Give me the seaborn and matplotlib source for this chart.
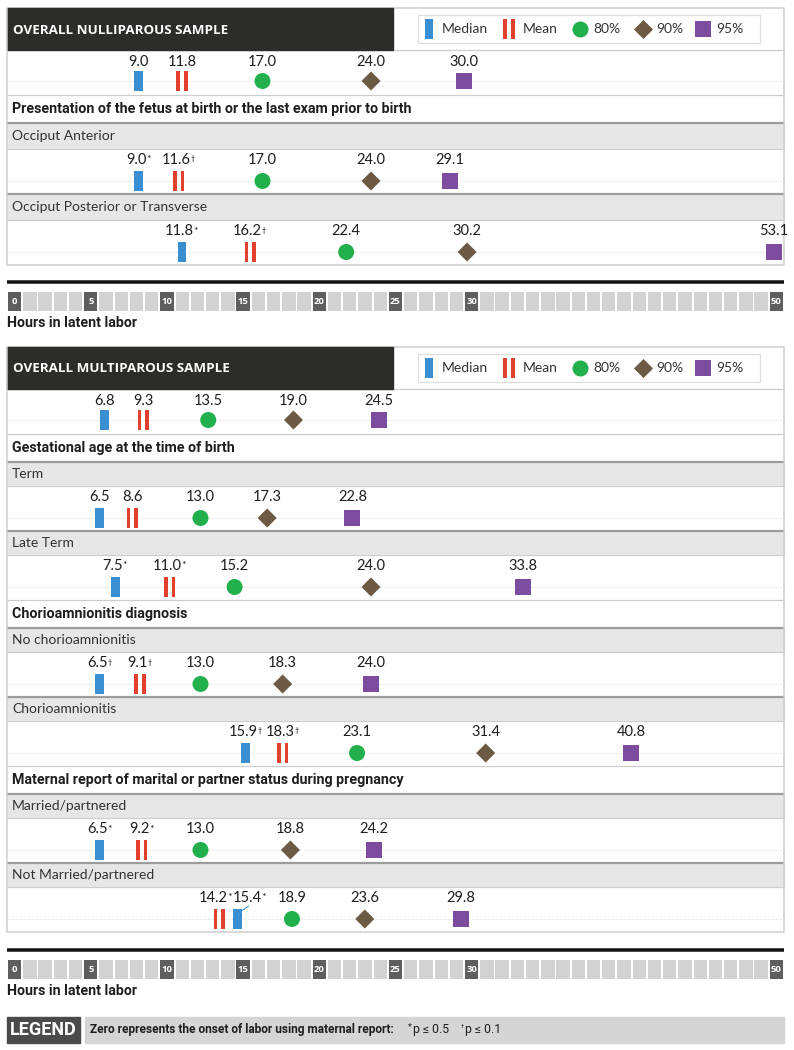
"""plot.py

Latent labor duration summary (median, mean and 80/90/95th percentiles)
for nulliparous and multiparous samples.

"""

import numpy as np
import pandas as pd
import matplotlib
matplotlib.use("Agg")
import matplotlib.pyplot as plt
from matplotlib.path import Path
from matplotlib.patches import Rectangle
import seaborn as sns

# ---- data (hours in latent labor) ----
NULLI_TITLE = "OVERALL NULLIPAROUS SAMPLE"
NULLI_HEADINGS = ["Presentation of the fetus at birth or the last exam prior to birth"]
NULLI_GROUPS = [["Occiput Anterior", "Occiput Posterior or Transverse"]]
NULLI_MEDIAN = [9.0, 9.0, 11.8]
NULLI_MEAN = [11.8, 11.6, 16.2]
NULLI_P80 = [17.0, 17.0, 22.4]
NULLI_P90 = [24.0, 24.0, 30.2]
NULLI_P95 = [30.0, 29.1, 53.1]
NULLI_MEDIAN_SIG = ["", "*", "*"]
NULLI_MEAN_SIG = ["", "\u2020", "\u2020"]

MULTI_TITLE = "OVERALL MULTIPAROUS SAMPLE"
MULTI_HEADINGS = ["Gestational age at the time of birth",
                  "Chorioamnionitis diagnosis",
                  "Maternal report of marital or partner status during pregnancy"]
MULTI_GROUPS = [["Term", "Late Term"],
                ["No chorioamnionitis", "Chorioamnionitis"],
                ["Married/partnered", "Not Married/partnered"]]
MULTI_MEDIAN = [6.8, 6.5, 7.5, 6.5, 15.9, 6.5, 15.4]
MULTI_MEAN = [9.3, 8.6, 11.0, 9.1, 18.3, 9.2, 14.2]
MULTI_P80 = [13.5, 13.0, 15.2, 13.0, 23.1, 13.0, 18.9]
MULTI_P90 = [19.0, 17.3, 24.0, 18.3, 31.4, 18.8, 23.6]
MULTI_P95 = [24.5, 22.8, 33.8, 24.0, 40.8, 24.2, 29.8]
MULTI_MEDIAN_SIG = ["", "", "*", "\u2020", "\u2020", "*", "*"]
MULTI_MEAN_SIG = ["", "", "*", "\u2020", "\u2020", "*", "*"]

LEGEND_NAMES = ["Median", "Mean", "80%", "90%", "95%"]
AXIS_TICKS = list(range(0, 51))
AXIS_LABELED = [0, 5, 10, 15, 20, 25, 30, 50]
AXIS_LABEL = "Hours in latent labor"
FOOTER_TAG = "LEGEND"
FOOTER_TEXT = "Zero represents the onset of labor using maternal report:"
FOOTER_SIGS = [("*", "p \u2264 0.5"), ("\u2020", "p \u2264 0.1")]

# ---- look ----
DPI = 100
FIG_W, FIG_H = 794, 1050
LEFT, RIGHT = 7, 784
ZERO_PX, SCALE_PX = -1.0, 15.5   # pixel x of 0 h, pixels per hour
X_MAX = 50.0                     # values beyond the scale sit at its end

BLUE = "#3a8fd3"
RED = "#e1402c"
GREEN = "#21b04b"
BROWN = "#6d5a44"
PURPLE = "#7e4c9f"
DARK = "#2c2c2a"
TEXT = "#1e1e1e"
BAND = "#e6e6e6"
LINE_LIGHT = "#cdcdcd"
LINE_DARK = "#9c9c9c"

REGULAR = ["Lato", "DejaVu Sans"]
NARROW = ["Liberation Sans Narrow", "Roboto", "DejaVu Sans"]
WIDE = ["Open Sans", "DejaVu Sans"]
SIG_SIZE = {"*": 7.5, "\u2020": 5.2}

# nudges (pixels) for labels that would collide
LABEL_NUDGE = {("multi", "median", 6): 12, ("multi", "mean", 6): -3}


def pt(pixels):
    """Pixels to points."""
    return pixels * 72.0 / DPI


def rect_path(boxes):
    verts, codes = [], []
    for x0, x1, y0, y1 in boxes:
        verts += [(x0, y0), (x1, y0), (x1, y1), (x0, y1), (x0, y0)]
        codes += [Path.MOVETO, Path.LINETO, Path.LINETO, Path.LINETO,
                  Path.CLOSEPOLY]
    return Path(verts, codes)


MEDIAN_MARK = rect_path([(-0.22, 0.22, -0.5, 0.5)])
MEAN_MARK = rect_path([(-0.28, -0.1, -0.5, 0.5), (0.1, 0.28, -0.5, 0.5)])

# marker, size (pt^2), colour for each statistic
STYLES = {
    "median": (MEDIAN_MARK, pt(20) ** 2, BLUE),
    "mean": (MEAN_MARK, pt(20) ** 2, RED),
    "p80": ("o", pt(16) ** 2, GREEN),
    "p90": ("D", pt(13.5) ** 2, BROWN),
    "p95": ("s", pt(16) ** 2, PURPLE),
}

sns.set_style("white")
plt.rcParams["font.family"] = REGULAR

fig = plt.figure(figsize=(FIG_W / DPI, FIG_H / DPI), dpi=DPI)
lay = fig.add_axes([0, 0, 1, 1])
lay.set_xlim(0, FIG_W)
lay.set_ylim(FIG_H, 0)
lay.axis("off")
ax = fig.add_axes([0, 0, 1, 1])
ax.set_xlim((0 - ZERO_PX) / SCALE_PX, (FIG_W - ZERO_PX) / SCALE_PX)
ax.set_ylim(FIG_H, 0)
ax.axis("off")
renderer = fig.canvas.get_renderer()


def hline(y, color, width, x0=LEFT, x1=RIGHT, **kw):
    lay.plot([x0, x1], [y, y], color=color, lw=pt(width),
             solid_capstyle="butt", **kw)


def value_label(x, y, value, sig, nudge=0):
    off = pt(nudge) - (1.8 if sig else 0)
    t = ax.annotate("{:.1f}".format(value), (x, y), xytext=(off, 0),
                    textcoords="offset points", ha="center", va="center",
                    fontsize=10.5, color=TEXT, zorder=5)
    if sig:
        bb = t.get_window_extent(renderer)
        ax.annotate(sig, (bb.x1 - 0.3, bb.y1 - 2.5), xycoords="figure pixels",
                    ha="left", va="top", fontsize=SIG_SIZE[sig], color=TEXT,
                    zorder=5)


def draw_legend(top):
    lay.add_patch(Rectangle((418, top + 7), 342, 28, fc="white",
                            ec="#dedede", lw=pt(1.2), zorder=3))
    yc = top + 21
    icon_x = [429, 509, 580, 643, 703]
    text_x = [442, 523, 593, 656, 716]
    for key, xi, xt, name in zip(STYLES, icon_x, text_x, LEGEND_NAMES):
        marker, size, color = STYLES[key]
        lay.scatter([xi], [yc], marker=marker, s=size, color=color,
                    linewidths=0, zorder=4)
        lay.text(xt, yc, name, ha="left", va="center", fontsize=10,
                 color="#333333", zorder=4)


def draw_panel(tag, top, title, headings, groups, stats, sigs, band_h):
    bar_h, row_h, head_h = 42, 45, 28
    label_y, marker_y = [], []

    # title bar + legend
    hline(top, LINE_LIGHT, 1.5)
    hline(top + bar_h, LINE_LIGHT, 1.2)
    lay.add_patch(Rectangle((LEFT, top), 386, bar_h, color=DARK, zorder=2))
    lay.text(13, top + bar_h / 2 + 1, title, family=WIDE, fontweight="bold",
             fontsize=9.6, color="white", ha="left", va="center", zorder=3)
    draw_legend(top)

    y = top + bar_h
    label_y.append(y + 12)
    marker_y.append(y + 31)
    y += row_h
    for heading, group in zip(headings, groups):
        hline(y, LINE_LIGHT, 1.2)
        lay.text(12, y + head_h / 2, heading, family=NARROW,
                 fontweight="bold", fontsize=10.3, color=TEXT,
                 ha="left", va="center")
        y += head_h
        for name in group:
            lay.add_patch(Rectangle((LEFT, y), RIGHT - LEFT, band_h,
                                    color=BAND, zorder=0))
            hline(y, LINE_DARK, 2.2)
            hline(y + band_h, LINE_LIGHT, 1)
            lay.text(12, y + band_h / 2, name, fontsize=10, color="#333333",
                     ha="left", va="center")
            y += band_h
            label_y.append(y + 11)
            marker_y.append(y + 32)
            y += row_h
    bottom = y

    # frame sides and bottom
    for xs in (LEFT, RIGHT):
        lay.plot([xs, xs], [top, bottom], color=LINE_LIGHT, lw=pt(1.5))
    hline(bottom, LINE_LIGHT, 1.5)

    # faint guide line behind every row of marks
    for my in marker_y:
        hline(my, "#e3e3e3", 1, ls=(0, (2, 2)), zorder=1)

    # marks
    for key, values in stats.items():
        marker, size, color = STYLES[key]
        df = pd.DataFrame({"hours": np.minimum(values, X_MAX),
                           "y": marker_y})
        sns.scatterplot(data=df, x="hours", y="y", marker=marker, s=size,
                        color=color, edgecolor="none", linewidth=0,
                        legend=False, ax=ax, zorder=4)
        for i, v in enumerate(values):
            sig = sigs.get(key, [""] * len(values))[i]
            nudge = LABEL_NUDGE.get((tag, key, i), 0)
            value_label(min(v, X_MAX), label_y[i], v, sig, nudge)
            if key == "median" and nudge:
                xp = ZERO_PX + SCALE_PX * v
                lay.plot([xp + 2, xp + nudge - 1],
                         [marker_y[i] - 7, marker_y[i] - 13],
                         color=color, lw=pt(1), zorder=4)
    ax.set_xlim((0 - ZERO_PX) / SCALE_PX, (FIG_W - ZERO_PX) / SCALE_PX)
    ax.set_ylim(FIG_H, 0)
    ax.axis("off")
    return bottom


def draw_axis_strip(y_line):
    hline(y_line, "#111111", 3.5)
    sax = fig.add_axes([LEFT / FIG_W, 1 - (y_line + 29) / FIG_H,
                        (RIGHT - LEFT) / FIG_W, 19 / FIG_H])
    palette = {t: ("#5e5e5e" if t in AXIS_LABELED else "#d2d2d2")
               for t in AXIS_TICKS}
    sns.barplot(x=AXIS_TICKS, y=[1] * len(AXIS_TICKS), hue=AXIS_TICKS,
                palette=palette, legend=False, width=0.88, saturation=1,
                linewidth=0, errorbar=None, ax=sax)
    sax.set_xlim(-0.5, len(AXIS_TICKS) - 0.5)
    sax.set_ylim(0, 1)
    sax.axis("off")
    for t in AXIS_LABELED:
        sax.text(t, 0.5, str(t), color="white", fontsize=6.8,
                 fontweight="bold", ha="center", va="center", family=WIDE)
    lay.text(LEFT, y_line + 41, AXIS_LABEL, family=NARROW, fontweight="bold",
             fontsize=10.2, color=TEXT, ha="left", va="center")
    return y_line + 41


def draw_footer(top):
    lay.add_patch(Rectangle((LEFT, top), 73, 26, color="#4a4a4a"))
    lay.text(LEFT + 36.5, top + 13, FOOTER_TAG, family=NARROW,
             fontweight="bold", fontsize=13, color="white",
             ha="center", va="center")
    lay.add_patch(Rectangle((85, top), RIGHT - 85, 26, color="#d5d5d5"))
    t = lay.text(90, top + 13, FOOTER_TEXT, family=NARROW, fontweight="bold",
                 fontsize=8.6, color=TEXT, ha="left", va="center")
    x = t.get_window_extent(renderer).x1 + 14
    for mark, text in FOOTER_SIGS:
        s = lay.text(x, top + 10, mark, family=NARROW,
                     fontsize=SIG_SIZE[mark] - 1, color=TEXT,
                     ha="left", va="center")
        x = s.get_window_extent(renderer).x1 + 1
        s = lay.text(x, top + 13, text, family=NARROW, fontsize=8.8,
                     color=TEXT, ha="left", va="center")
        x = s.get_window_extent(renderer).x1 + 12


def run():
    bottom = draw_panel(
        "nulli", 8, NULLI_TITLE, NULLI_HEADINGS, NULLI_GROUPS,
        {"median": NULLI_MEDIAN, "mean": NULLI_MEAN, "p80": NULLI_P80,
         "p90": NULLI_P90, "p95": NULLI_P95},
        {"median": NULLI_MEDIAN_SIG, "mean": NULLI_MEAN_SIG}, 26)
    label_y = draw_axis_strip(bottom + 17)

    bottom = draw_panel(
        "multi", label_y + 24, MULTI_TITLE, MULTI_HEADINGS, MULTI_GROUPS,
        {"median": MULTI_MEDIAN, "mean": MULTI_MEAN, "p80": MULTI_P80,
         "p90": MULTI_P90, "p95": MULTI_P95},
        {"median": MULTI_MEDIAN_SIG, "mean": MULTI_MEAN_SIG}, 24)
    label_y = draw_axis_strip(bottom + 18)
    draw_footer(label_y + 26)

    fig.savefig("out.png", dpi=DPI)


if __name__ == "__main__":
    run()
